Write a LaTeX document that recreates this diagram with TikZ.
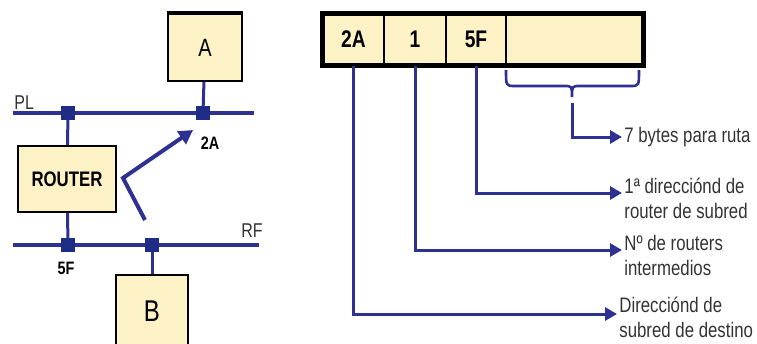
\documentclass[tikz,border=0pt]{standalone}
\usepackage{fontspec}
\setmainfont[FakeStretch=0.8]{Liberation Sans}
\usetikzlibrary{arrows.meta}
\definecolor{netblue}{HTML}{2E3192}
\definecolor{portblue}{HTML}{1F2C86}
\definecolor{boxfill}{HTML}{FDF1C6}
\definecolor{txtgray}{HTML}{333333}
\begin{document}
\begin{tikzpicture}[
        x=1pt, y=-1pt,
        thick
    ]
    \tikzset{
        mybox/.style = {draw=black, line width=1.8pt, fill=boxfill, inner sep=0pt},
        myport/.style = {draw=portblue, fill=portblue, minimum size=13pt, inner sep=0pt},
        mycell/.style = {draw=black, line width=1.4pt, fill=boxfill, minimum height=51pt, inner sep=0pt, font=\fontsize{24}{26}\selectfont\bfseries},
        mylabel/.style = {anchor=west, align=left, inner sep=2pt, text=txtgray, font=\fontsize{21}{25}\selectfont},
        mytag/.style = {inner sep=0pt, font=\fontsize{18}{20}\selectfont\bfseries},
        netline/.style = {netblue, line width=4pt},
        linkline/.style = {netblue, line width=3pt},
        callout/.style = {netblue, line width=3pt, -{Triangle[length=12pt,width=13pt]}},
    }
        \useasboundingbox (0,0) rectangle (757,343);
        % networks PL and RF
        \coordinate (plw) at (13,113);
        \coordinate (ple) at (254,113);
        \coordinate (rfw) at (13,245);
        \coordinate (rfe) at (259,245);
        \draw[netline] (plw) -- (ple);
        \draw[netline] (rfw) -- (rfe);
        \node[anchor=south west, inner sep=0pt, text=txtgray, font=\fontsize{20}{22}\selectfont] at (14,110) (pl) {PL};
        \node[anchor=south east, inner sep=0pt, text=txtgray, font=\fontsize{20}{22}\selectfont] at (263,238) (rf) {RF};
        %
        \node[mybox, minimum width=74pt, minimum height=67pt, font=\fontsize{25}{27}\selectfont] at (205,47.5) (a) {A};
        \node[mybox, minimum width=98pt, minimum height=66pt, font=\fontsize{21}{23}\selectfont\bfseries] at (67,179) (router) {ROUTER};
        \node[mybox, minimum width=72pt, minimum height=72pt, font=\fontsize{30}{32}\selectfont] at (152,311) (b) {B};
        \draw[line width=4pt] (a.north west) -- (a.north east);
        %
        \node[myport] at (203,113) (pa) {};
        \node[myport] at (68,113) (pr1) {};
        \node[myport] at (68,245) (pr2) {};
        \node[myport] at (152,245) (pb) {};
        \node[mytag] at (210,143) (t2a) {2A};
        \node[mytag] at (66,268) (t5f) {5F};
        %
        \draw[linkline] (a) -- (pa);
        \draw[linkline] (pr1) -- (router);
        \draw[linkline] (router) -- (pr2);
        \draw[linkline] (pb) -- (b);
        %
        \coordinate (arrs) at (145,220);
        \coordinate (arrm) at (123,178);
        \coordinate (arre) at (193,130);
        \draw[netline, -{Triangle[length=14pt,width=15pt]}] (arrs) -- (arrm) -- (arre);

        % header of the packet
        \node[mycell, minimum width=61pt] at (353.5,39.5) (c2a) {2A};
        \node[mycell, minimum width=62pt] at (415,39.5) (c1) {1};
        \node[mycell, minimum width=60pt] at (476,39.5) (c5f) {5F};
        \node[mycell, minimum width=137pt] at (574.5,39.5) (cruta) {};
        \draw[line width=4.5pt] (c2a.north west) rectangle (cruta.south east);
        %
        \draw[netblue, line width=2.6pt] (506,70) .. controls (506,86) .. (515,86) -- (564,86)
            .. controls (572,86) .. (572,97) .. controls (572,86) .. (580,86) -- (630,86)
            .. controls (639,86) .. (639,70);
        \coordinate (btip) at (572,103);
        %
        \node[mylabel] at (622,137) (l7) {7 bytes para ruta};
        \node[mylabel] at (622,198) (l5f) {1ª direcciónd de\\router de subred};
        \node[mylabel] at (622,255) (l1) {Nº de routers\\intermedios};
        \node[mylabel] at (617,317) (l2a) {Direcciónd de\\subred de destino};
        %
        \draw[callout] (btip) |- (l7.west);
        \draw[callout] (c5f.south) |- ([yshift=5pt]l5f.west);
        \draw[callout] (c1.south) |- ([yshift=5pt]l1.west);
        \draw[callout] (c2a.south) |- ([yshift=3pt]l2a.west);
    \end{tikzpicture}
\end{document}
